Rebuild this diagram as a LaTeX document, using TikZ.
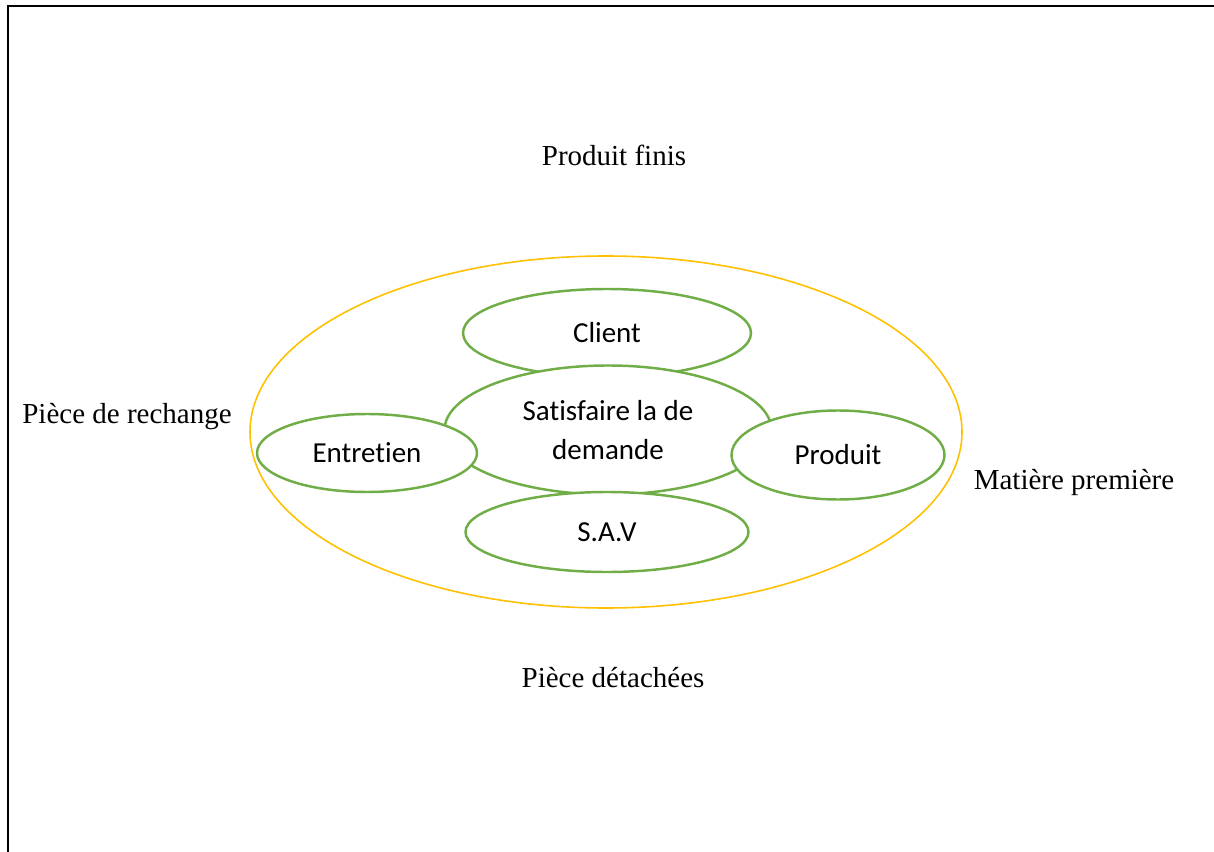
\documentclass[tikz,border=0pt]{standalone}
\usepackage{fontspec}
\setmainfont{Liberation Serif}
\newfontfamily\calibri[Ligatures=NoCommon]{Carlito}
\usetikzlibrary{shapes.geometric}

\definecolor{vert}{RGB}{112,173,71}
\definecolor{jaune}{RGB}{255,192,0}

\tikzset{
    bulle/.style={ellipse, draw=vert, line width=1.4pt, fill=white, inner sep=0pt,
        font=\calibri\fontsize{16.5}{22.7}\selectfont, align=center},
    etiquette/.style={font=\fontsize{16.5}{20}\selectfont, inner sep=0pt}
}

\begin{document}
\begin{tikzpicture}
    \useasboundingbox (0,0) rectangle (24.28,-17.04);
    \coordinate (H) at (24.28,-0.12);
    \coordinate (O) at (0.16,-0.12);
    \coordinate (B) at (0.16,-17.04);

    \draw[line width=1.1pt] (H) -- (O) -- (B);

    \node[ellipse, draw=jaune, line width=0.9pt, minimum width=14.24cm, minimum height=7.04cm] (zone) at (12.12,-8.64) {};

    \node[bulle, minimum width=5.76cm, minimum height=1.76cm] (client) at (12.14,-6.66) {Client};
    \node[bulle, minimum width=6.54cm, minimum height=2.58cm] (besoin) at (12.16,-8.60) {Satisfaire la de\\demande};
    \node[bulle, minimum width=4.40cm, minimum height=1.56cm] (entretien) at (7.34,-9.06) {Entretien};
    \node[bulle, minimum width=4.26cm, minimum height=1.78cm] (produit) at (16.76,-9.10) {Produit};
    \node[bulle, minimum width=5.66cm, minimum height=1.60cm] (sav) at (12.14,-10.64) {S.A.V};

    \node[etiquette] (finis) at (12.28,-3.10) {Produit finis};
    \node[etiquette] (rechange) at (2.54,-8.34) {Pièce de rechange};
    \node[etiquette] (matiere) at (21.48,-9.66) {Matière première};
    \node[etiquette] (detachees) at (12.26,-13.56) {Pièce détachées};
\end{tikzpicture}
\end{document}
